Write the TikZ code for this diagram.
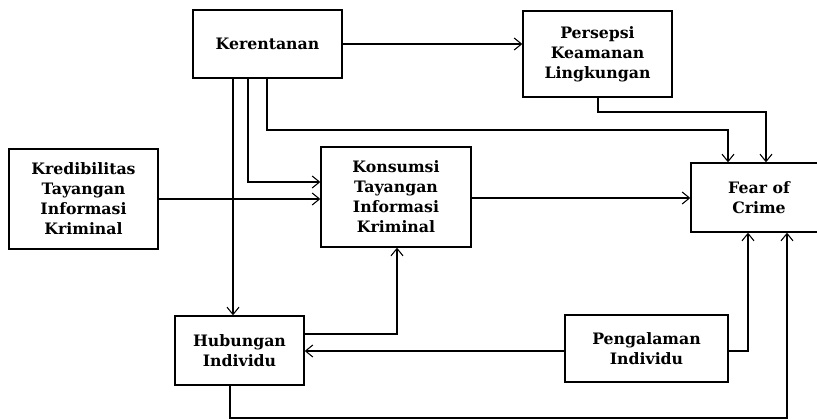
\documentclass[tikz,border=0pt]{standalone}
\usepackage{fontspec}
\setmainfont{DejaVu Serif}
\usetikzlibrary{arrows.meta}
\begin{document}
\begin{tikzpicture}[x=0.75pt,y=-0.75pt,
  box/.style={draw,line width=1pt,inner sep=0pt,align=center,
    font=\fontsize{11.8}{15}\selectfont\bfseries},
  arr/.style={line width=0.8pt,-{Straight Barb[length=5.5pt,width=9pt]}},
  ln/.style={line width=0.8pt}]
\useasboundingbox (0,0) rectangle (817,420);
\clip (0,0) rectangle (817,420);
\node[box,minimum width=111.75pt,minimum height=51pt] (ker) at (267.5,44) {Kerentanan};
\node[box,minimum width=111.75pt,minimum height=64.5pt] (per) at (597.5,54) {Persepsi\\Keamanan\\Lingkungan};
\node[box,minimum width=111.75pt,minimum height=75pt] (kre) at (83.5,199) {Kredibilitas\\Tayangan\\Informasi\\Kriminal};
\node[box,minimum width=112.5pt,minimum height=75pt] (kon) at (396,197) {Konsumsi\\Tayangan\\Informasi\\Kriminal};
\node[box,minimum width=102pt,minimum height=51.75pt] (fear) at (759,197.5) {Fear of\\Crime};
\node[box,minimum width=96.75pt,minimum height=51.75pt] (hub) at (239.5,350.5) {Hubungan\\Individu};
\node[box,minimum width=122.25pt,minimum height=50.25pt] (pen) at (646.5,348.5) {Pengalaman\\Individu};
% connectors
\draw[arr] (ker.east) -- (per.west |- ker.east);
\draw[arr] (ker.south -| 233,0) -- (hub.north -| 233,0);
\draw[arr] (ker.south -| 248,0) |- (kon.west |- 0,182);
\draw[arr] (ker.south -| 267,0) |- (728,130) -- (fear.north -| 728,0);
\draw[arr] (per.south -| 598,0) |- (766,112) -- (fear.north -| 766,0);
\draw[arr] (kre.east) -- (kon.west |- kre.east);
\draw[arr] (kon.east |- 0,198) -- (fear.west |- 0,198);
\draw[arr] (hub.east |- 0,334) -| (kon.south -| 397,0);
\draw[arr] (pen.west |- 0,351) -- (hub.east |- 0,351);
\draw[arr] (pen.east |- 0,351) -| (fear.south -| 748,0);
\draw[arr] (hub.south -| 230,0) |- (787,418) -- (fear.south -| 787,0);
\end{tikzpicture}
\end{document}
